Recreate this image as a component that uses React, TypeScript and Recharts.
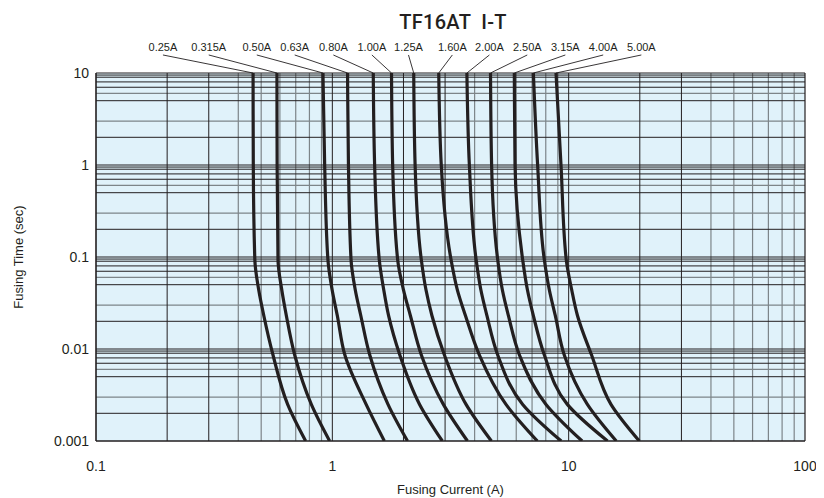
import {
  LineChart,
  Line,
  XAxis,
  YAxis,
  ReferenceLine,
  ReferenceArea,
  ReferenceDot,
} from 'recharts'

// fuse ratings, left to right
const ratings = [
  '0.25A', '0.315A', '0.50A', '0.63A', '0.80A', '1.00A', '1.25A',
  '1.60A', '2.00A', '2.50A', '3.15A', '4.00A', '5.00A',
]

// fusing time (sec) where each curve was read
const times = [10, 1, 0.093, 0.044, 0.023, 0.0086, 0.0025, 0.001]

// fusing current (A) of each curve at the times above
const c025 = [0.462, 0.463, 0.47, 0.488, 0.513, 0.561, 0.647, 0.771]
const c0315 = [0.583, 0.584, 0.589, 0.611, 0.639, 0.693, 0.815, 0.974]
const c050 = [0.913, 0.928, 0.958, 0.998, 1.05, 1.13, 1.39, 1.66]
const c063 = [1.16, 1.17, 1.2, 1.25, 1.32, 1.44, 1.72, 2.08]
const c080 = [1.49, 1.51, 1.58, 1.65, 1.73, 1.93, 2.34, 2.92]
const c100 = [1.78, 1.8, 1.89, 2.0, 2.14, 2.38, 2.95, 3.73]
const c125 = [2.21, 2.24, 2.38, 2.49, 2.64, 2.98, 3.68, 4.71]
const c160 = [2.82, 2.89, 3.18, 3.38, 3.66, 4.19, 5.43, 7.37]
const c200 = [3.71, 3.8, 4.06, 4.25, 4.51, 5.01, 6.39, 9.3]
const c250 = [4.67, 4.72, 5.01, 5.24, 5.56, 6.19, 8.02, 11.4]
const c315 = [5.89, 5.93, 6.39, 6.69, 7.09, 7.89, 9.87, 14.6]
const c400 = [7.09, 7.39, 7.89, 8.28, 8.78, 9.58, 12.0, 15.9]
const c500 = [8.84, 9.28, 9.77, 10.3, 10.9, 12.5, 15.1, 19.9]

const curves = [c025, c0315, c050, c063, c080, c100, c125, c160, c200, c250, c315, c400, c500]

// where the rating labels sit above the plot
const labelCurrents = [0.192, 0.3, 0.479, 0.693, 1.01, 1.47, 2.1, 3.22, 4.62, 6.68, 9.68, 14.0, 20.3]
const labelTime = 19.2
const leaderTime = 15.7

const xTicks = [0.1, 1, 10, 100]
const yTicks = [0.001, 0.01, 0.1, 1, 10]

const xDecades = [0.1, 1, 10]
const yDecades = [0.001, 0.01, 0.1, 1]
const xDarkSteps = [2, 3]
const xGraySteps = [4, 5, 6, 7, 8, 9]
const yDarkSteps = [2, 5, 7, 8, 9, 9.5]
const yGraySteps = [3, 6]

const ink = '#231f20'
const gray = '#7d8589'
const font = '"Liberation Sans", Arial, sans-serif'

const mult = (decades: number[], steps: number[]) =>
  decades.flatMap((d) => steps.map((s) => +(d * s).toPrecision(6)))

const seriesData = curves.map((row) => row.map((c, i) => ({ i: c, t: times[i] })))

export default function App() {
  return (
    <div style={{ position: 'relative', width: 808, height: 490, fontFamily: font }}>
      <div
        style={{
          position: 'absolute',
          left: 445,
          top: 2,
          transform: 'translateX(-50%)',
          fontSize: 20,
          fontWeight: 500,
          fontFamily: 'Roboto, "Liberation Sans", sans-serif',
          color: ink,
          whiteSpace: 'pre',
          letterSpacing: 0.3,
        }}
      >
        TF16AT  I-T
      </div>
      <LineChart width={808} height={490} margin={{ top: 65, right: 11, bottom: 0, left: 0 }}>
        <XAxis
          dataKey="i"
          type="number"
          scale="log"
          domain={[0.1, 100]}
          allowDataOverflow
          ticks={xTicks}
          tickFormatter={(v: number) => String(v)}
          tickLine={false}
          axisLine={false}
          tickSize={10}
          tickMargin={10}
          height={57}
          tick={{ fill: ink, fontSize: 14, fontFamily: font }}
          label={{ value: 'Fusing Current (A)', position: 'insideBottom', offset: 4, fill: ink, fontSize: 13, fontFamily: font }}
        />
        <YAxis
          dataKey="t"
          type="number"
          scale="log"
          domain={[0.001, 10]}
          allowDataOverflow
          ticks={yTicks}
          tickFormatter={(v: number) => String(v)}
          tickLine={false}
          axisLine={false}
          tickSize={4}
          tickMargin={3}
          width={88}
          tick={{ fill: ink, fontSize: 14, fontFamily: font }}
          label={{
            value: 'Fusing Time (sec)',
            angle: -90,
            position: 'insideLeft',
            offset: 10,
            fill: ink,
            fontSize: 13,
            fontFamily: font,
            style: { textAnchor: 'middle' },
          }}
        />
        <ReferenceArea x1={0.1} x2={100} y1={0.001} y2={10} fill="#e0f2fa" fillOpacity={1} stroke="none" />

        {mult(xDecades, xGraySteps).map((v) => (
          <ReferenceLine key={'xg' + v} x={v} stroke={gray} strokeWidth={1.2} />
        ))}
        {mult(yDecades, yGraySteps).map((v) => (
          <ReferenceLine key={'yg' + v} y={v} stroke={gray} strokeWidth={1.2} />
        ))}
        {mult(xDecades, [1, ...xDarkSteps]).map((v) => (
          <ReferenceLine key={'xd' + v} x={v} stroke={ink} strokeWidth={1} />
        ))}
        {mult(yDecades, [1, ...yDarkSteps]).map((v) => (
          <ReferenceLine key={'yd' + v} y={v} stroke={ink} strokeWidth={1} />
        ))}
        <ReferenceLine x={100} stroke={ink} strokeWidth={1.2} />
        <ReferenceLine y={10} stroke={ink} strokeWidth={1.2} />
        <ReferenceLine x={0.1} stroke={ink} strokeWidth={1.2} />
        <ReferenceLine y={0.001} stroke={ink} strokeWidth={1.2} />

        {ratings.map((r, k) => (
          <ReferenceLine
            key={'lead' + r}
            segment={[
              { x: labelCurrents[k], y: leaderTime },
              { x: curves[k][0], y: times[0] },
            ]}
            ifOverflow="visible"
            stroke={ink}
            strokeWidth={0.9}
          />
        ))}
        {ratings.map((r, k) => (
          <ReferenceDot
            key={'lab' + r}
            x={labelCurrents[k]}
            y={labelTime}
            r={0}
            fill="none"
            stroke="none"
            ifOverflow="visible"
            label={{ value: r, position: 'center', fill: ink, fontSize: 11, fontFamily: font }}
          />
        ))}

        {seriesData.map((d, k) => (
          <Line
            key={ratings[k]}
            data={d}
            dataKey="t"
            type="monotoneY"
            stroke={ink}
            strokeWidth={3.2}
            dot={false}
            activeDot={false}
            isAnimationActive={false}
          />
        ))}
      </LineChart>
    </div>
  )
}
